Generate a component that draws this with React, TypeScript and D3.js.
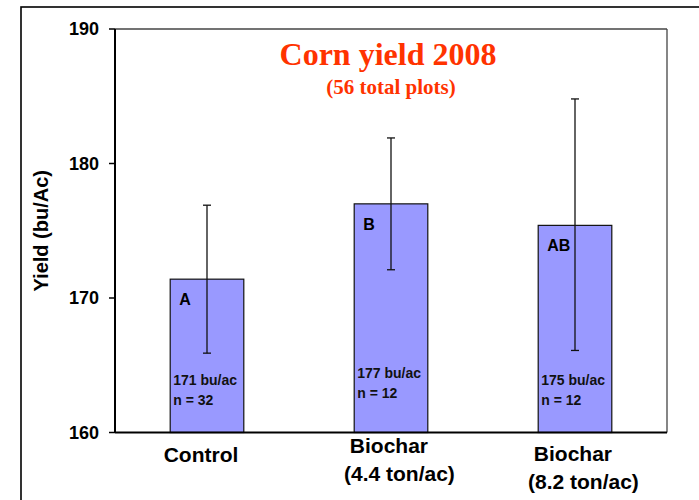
import React from 'react';
import * as d3 from 'd3';

// data
const categories = ['Control', 'Biochar 4.4', 'Biochar 8.2'];
const labelLines = [['Control'], [' Biochar', '(4.4 ton/ac)'], [' Biochar', '(8.2 ton/ac)']];
const yieldMeans = [171.4, 177.0, 175.4];
const errLow = [165.9, 172.1, 166.1];
const errHigh = [176.9, 181.9, 184.8];
const groupLetters = ['A', 'B', 'AB'];
const yieldNotes = ['171 bu/ac', '177 bu/ac', '175 bu/ac'];
const plotCounts = ['n = 32', 'n = 12', 'n = 12'];
const yTicks = [160, 170, 180, 190];

// small layout tweaks per category
const noteDy = [0, -7, 0];
const labelDy = [0, -8, 0];

const W = 699;
const H = 500;
const plot = { left: 115, right: 667, top: 29, bottom: 432.5 };

const SANS = '"Liberation Sans", Arial, sans-serif';
const SERIF = '"Liberation Serif", "Times New Roman", serif';

export default function App() {
  const x = d3.scaleBand<string>()
    .domain(categories)
    .range([plot.left, plot.right])
    .paddingInner(0.6)
    .paddingOuter(0.3);

  const y = d3.scaleLinear()
    .domain([160, 190])
    .range([plot.bottom, plot.top]);

  const bw = x.bandwidth();

  return (
    <svg width={W} height={H} style={{ position: 'absolute', left: 0, top: 0, background: '#fff' }}>
      {/* outer frame, runs off the right and bottom edges */}
      <rect x={21} y={7} width={W} height={H} fill="#fff" stroke="#000" strokeWidth={1.6} />

      {/* plot box: thin grey top and right */}
      <line x1={plot.left} x2={plot.right} y1={plot.top} y2={plot.top} stroke="#444" strokeWidth={1.3} />
      <line x1={plot.right} x2={plot.right} y1={plot.top} y2={plot.bottom} stroke="#444" strokeWidth={1.3} />

      {/* title */}
      <text x={388} y={65} textAnchor="middle" fontFamily={SERIF} fontWeight="bold" fontSize={32} fill="#FF3300">
        Corn yield 2008
      </text>
      <text x={391} y={94} textAnchor="middle" fontFamily={SERIF} fontWeight="bold" fontSize={21} fill="#FF3300">
        (56 total plots)
      </text>

      {/* bars */}
      {categories.map((c, i) => {
        const bx = x(c)!;
        const cx = bx + bw / 2;
        return (
          <g key={c}>
            <rect
              x={bx}
              y={y(yieldMeans[i])}
              width={bw}
              height={plot.bottom - y(yieldMeans[i])}
              fill="#9999FF"
              stroke="#111"
              strokeWidth={1.2}
            />
            <text x={bx + 9} y={y(yieldMeans[i]) + 26} fontFamily={SANS} fontWeight="bold" fontSize={16} fill="#000">
              {groupLetters[i]}
            </text>
            <text x={bx + 3} y={385 + noteDy[i]} fontFamily={SANS} fontWeight="bold" fontSize={14} fill="#111">
              {yieldNotes[i]}
            </text>
            <text x={bx + 3} y={405 + noteDy[i]} fontFamily={SANS} fontWeight="bold" fontSize={14} fill="#111">
              {plotCounts[i]}
            </text>
            {/* error bar */}
            <line x1={cx} x2={cx} y1={y(errHigh[i])} y2={y(errLow[i])} stroke="#111" strokeWidth={1.3} />
            <line x1={cx - 4} x2={cx + 4} y1={y(errHigh[i])} y2={y(errHigh[i])} stroke="#111" strokeWidth={1.3} />
            <line x1={cx - 4} x2={cx + 4} y1={y(errLow[i])} y2={y(errLow[i])} stroke="#111" strokeWidth={1.3} />
          </g>
        );
      })}

      {/* y axis */}
      <line x1={plot.left} x2={plot.left} y1={plot.top} y2={plot.bottom} stroke="#000" strokeWidth={2} />
      {yTicks.map((t) => (
        <g key={t}>
          <line x1={plot.left - 6} x2={plot.left} y1={y(t)} y2={y(t)} stroke="#000" strokeWidth={1.5} />
          <text x={99} y={y(t)} dy="0.36em" textAnchor="end" fontFamily={SANS} fontWeight="bold" fontSize={18} fill="#000">
            {t}
          </text>
        </g>
      ))}
      <text
        transform={`translate(48, ${(plot.top + plot.bottom) / 2}) rotate(-90)`}
        textAnchor="middle"
        fontFamily={SANS}
        fontWeight="bold"
        fontSize={20}
        fill="#000"
      >
        Yield (bu/Ac)
      </text>

      {/* x axis */}
      <line x1={plot.left} x2={plot.right} y1={plot.bottom} y2={plot.bottom} stroke="#000" strokeWidth={2} />
      {categories.map((c, i) => {
        const cx = x(c)! + bw / 2;
        const lines = labelLines[i];
        if (lines.length === 1) {
          return (
            <text key={c} x={cx - 6} y={461.5} textAnchor="middle" fontFamily={SANS} fontWeight="bold" fontSize={21} fill="#000">
              {lines[0]}
            </text>
          );
        }
        return (
          <text key={c} x={cx - 47} y={461 + labelDy[i]} fontFamily={SANS} fontWeight="bold" fontSize={21} fill="#000" style={{ whiteSpace: 'pre' }}>
            {lines.map((l, j) => (
              <tspan key={j} x={cx - 47} dy={j === 0 ? 0 : 28}>
                {l}
              </tspan>
            ))}
          </text>
        );
      })}
    </svg>
  );
}
